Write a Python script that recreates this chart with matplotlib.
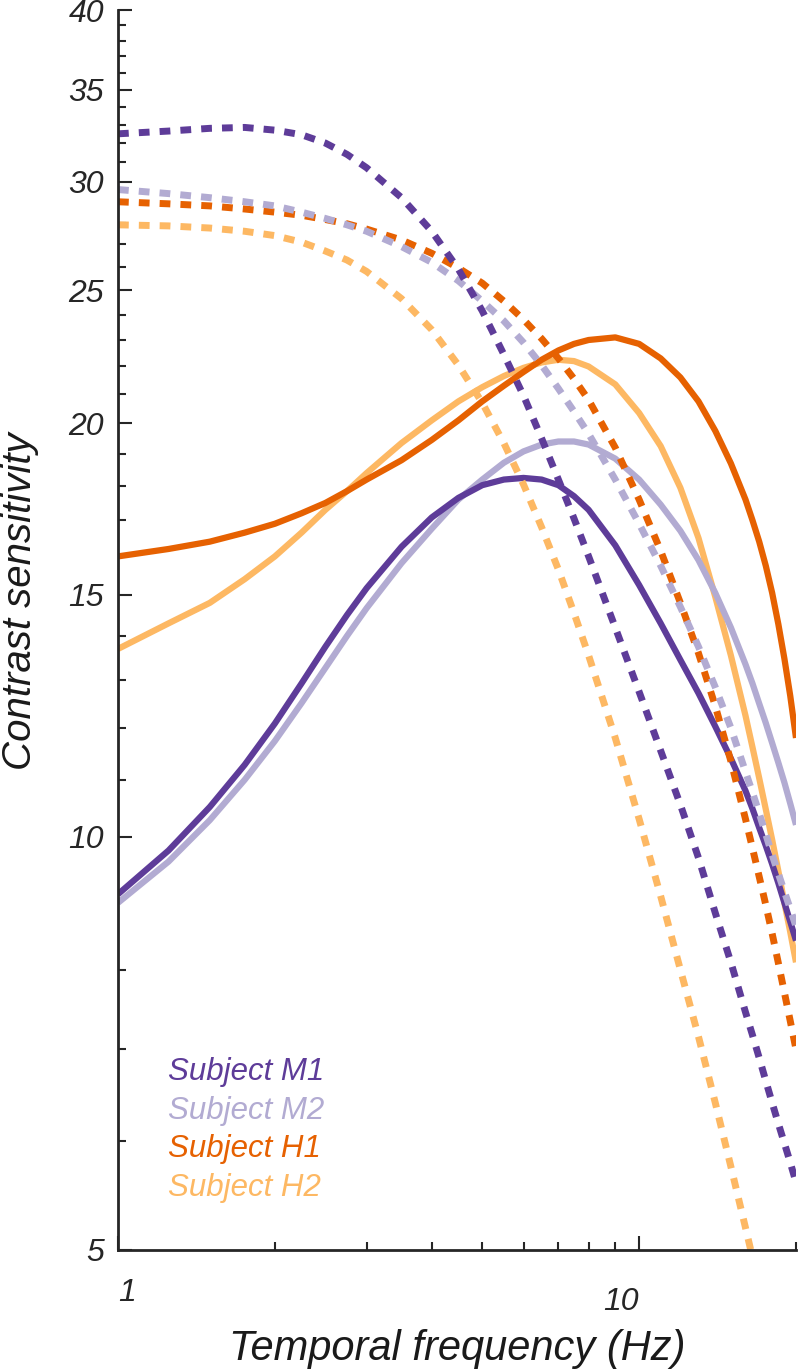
# Temporal contrast sensitivity curves for four subjects
# solid = one condition, dotted = the other

import numpy as np
import matplotlib
matplotlib.use("Agg")
import matplotlib.pyplot as plt
from matplotlib.ticker import FixedLocator, NullFormatter, FixedFormatter

plt.rcParams['font.family'] = ['Liberation Sans', 'DejaVu Sans']

# temporal frequency (Hz) sample points
freq = [1, 1.25, 1.5, 1.75, 2, 2.25, 2.5, 2.75, 3, 3.5, 4, 4.5, 5, 5.5, 6,
        6.5, 7, 7.5, 8, 9, 10, 11, 12, 13, 14, 15, 16, 16.5, 17, 17.5, 18,
        18.5, 19, 19.5, 20]

# solid curves
m1_solid = [9.08, 9.77, 10.51, 11.28, 12.09, 12.93, 13.75, 14.5, 15.17, 16.26,
            17.08, 17.65, 18.03, 18.2, 18.25, 18.2, 18.03, 17.7, 17.3, 16.3,
            15.25, 14.3, 13.45, 12.72, 12.03, 11.4, 10.8, 10.48, 10.15, 9.85,
            9.55, 9.25, 8.95, 8.67, 8.4]
m2_solid = [8.95, 9.59, 10.28, 11.0, 11.74, 12.51, 13.27, 14.0, 14.67, 15.82,
            16.76, 17.6, 18.2, 18.72, 19.08, 19.3, 19.4, 19.4, 19.3, 18.85,
            18.2, 17.45, 16.7, 15.9, 15.05, 14.2, 13.35, 12.93, 12.5, 12.1,
            11.7, 11.32, 10.95, 10.57, 10.2]
h1_solid = [16.0, 16.2, 16.4, 16.65, 16.9, 17.2, 17.5, 17.85, 18.2, 18.8,
            19.45, 20.1, 20.75, 21.3, 21.8, 22.25, 22.6, 22.85, 23.0, 23.1,
            22.85, 22.3, 21.6, 20.75, 19.75, 18.7, 17.6, 17.0, 16.4, 15.75,
            15.05, 14.28, 13.48, 12.66, 11.8]
h2_solid = [13.7, 14.3, 14.8, 15.4, 16.0, 16.65, 17.3, 17.85, 18.4, 19.35,
            20.1, 20.75, 21.25, 21.65, 21.95, 22.15, 22.25, 22.2, 22.0, 21.35,
            20.35, 19.25, 17.95, 16.5, 14.95, 13.55, 12.25, 11.62, 11.03, 10.47,
            9.95, 9.44, 8.95, 8.52, 8.1]

# dotted curves
m1_dotted = [32.5, 32.65, 32.8, 32.85, 32.7, 32.45, 32.0, 31.4, 30.7, 29.2,
             27.6, 25.9, 24.15, 22.45, 20.95, 19.5, 18.2, 17.05, 16.0, 14.2,
             12.75, 11.55, 10.55, 9.65, 8.8, 8.1, 7.45, 7.17, 6.9, 6.64, 6.4,
             6.18, 5.98, 5.79, 5.6]
m2_dotted = [29.6, 29.4, 29.2, 29.0, 28.8, 28.5, 28.2, 27.9, 27.6, 26.9,
             26.2, 25.4, 24.55, 23.75, 22.9, 22.05, 21.2, 20.4, 19.65, 18.2,
             16.9, 15.75, 14.7, 13.75, 12.85, 12.0, 11.15, 10.77, 10.4, 10.04,
             9.7, 9.4, 9.12, 8.86, 8.6]
h1_dotted = [29.0, 28.9, 28.8, 28.65, 28.5, 28.35, 28.15, 27.95, 27.7, 27.2,
             26.6, 25.95, 25.3, 24.55, 23.8, 23.05, 22.3, 21.55, 20.8, 19.2,
             17.6, 16.15, 14.8, 13.6, 12.45, 11.35, 10.3, 9.81, 9.35, 8.92,
             8.5, 8.09, 7.7, 7.34, 7.0]
h2_dotted = [27.9, 27.85, 27.75, 27.6, 27.4, 27.1, 26.7, 26.3, 25.8, 24.65,
             23.4, 22.05, 20.7, 19.35, 18.05, 16.8, 15.65, 14.55, 13.55, 11.8,
             10.3, 9.05, 8.0, 7.15, 6.4, 5.75, 5.19, 4.94, 4.7, 4.47, 4.25,
             4.05, 3.85, 3.65, 3.45]

subjects = ["Subject M1", "Subject M2", "Subject H1", "Subject H2"]
colours = ["#5e3c99", "#b2abd2", "#e66101", "#fdb863"]

y_major = [5, 10, 15, 20, 25, 30, 35, 40]
x_major = [1, 10]
x_major_labels = ["1", "10"]

solid_list = [m1_solid, m2_solid, h1_solid, h2_solid]
dotted_list = [m1_dotted, m2_dotted, h1_dotted, h2_dotted]

fig = plt.figure(figsize=(8, 13.7), dpi=100)
ax = fig.add_axes([0.1475, 0.0876, 0.8475, 0.9051])

# draw the solid ones first so dotted sit on top
for vals, col in zip(solid_list[::-1], colours[::-1]):
    ax.plot(freq, vals, color=col, lw=4.5, solid_capstyle='butt',
            solid_joinstyle='round')
for vals, col in zip(dotted_list[::-1], colours[::-1]):
    ax.plot(freq, vals, color=col, lw=5, linestyle=(0, (1.55, 1.45)),
            dash_capstyle='butt')

ax.set_xscale('log')
ax.set_yscale('log')
ax.set_xlim(1, 20)
ax.set_ylim(5, 40)

# tick set up
ax.xaxis.set_major_locator(FixedLocator(x_major))
ax.xaxis.set_major_formatter(FixedFormatter(x_major_labels))
ax.xaxis.set_minor_locator(FixedLocator([2, 3, 4, 5, 6, 7, 8, 9, 20]))
ax.xaxis.set_minor_formatter(NullFormatter())
ax.yaxis.set_major_locator(FixedLocator(y_major))
ax.yaxis.set_major_formatter(FixedFormatter([str(v) for v in y_major]))
ax.yaxis.set_minor_locator(FixedLocator([v for v in range(6, 40) if v % 5 != 0]))
ax.yaxis.set_minor_formatter(NullFormatter())

ax.tick_params(which='both', direction='in', color='#262626', width=1.5)
ax.tick_params(which='major', length=10)
ax.tick_params(which='minor', length=6)
ax.tick_params(axis='y', which='major', pad=10)
# the two x labels sit a bit differently in the original
xticks = ax.xaxis.get_major_ticks()
xticks[0].set_pad(20)
xticks[1].set_pad(27)
for lab in ax.get_xticklabels() + ax.get_yticklabels():
    lab.set_fontsize(23)
    lab.set_fontstyle('italic')
    lab.set_color('#262626')
xlabs = ax.get_xticklabels()
xlabs[0].set_horizontalalignment('left')
xlabs[1].set_horizontalalignment('right')

for side in ['top', 'right']:
    ax.spines[side].set_visible(False)
for side in ['left', 'bottom']:
    ax.spines[side].set_linewidth(2)
    ax.spines[side].set_color('#262626')

# subject labels in the bottom left
label_y = [0.137, 0.106, 0.075, 0.0435]
for name, col, yy in zip(subjects, colours, label_y):
    ax.text(0.074, yy, name, color=col, fontsize=22.5, style='italic',
            transform=ax.transAxes, ha='left', va='baseline')

# axis titles
fig.text(457 / 800, 1 - 1349 / 1370, 'Temporal frequency (Hz)',
         ha='center', va='center', fontsize=30, style='italic', color='#1a1a1a')
fig.text(20 / 800, 1 - 601 / 1370, 'Contrast sensitivity',
         ha='center', va='center', fontsize=29, style='italic',
         rotation='vertical', color='#1a1a1a')

fig.savefig('out.png', dpi=100)
